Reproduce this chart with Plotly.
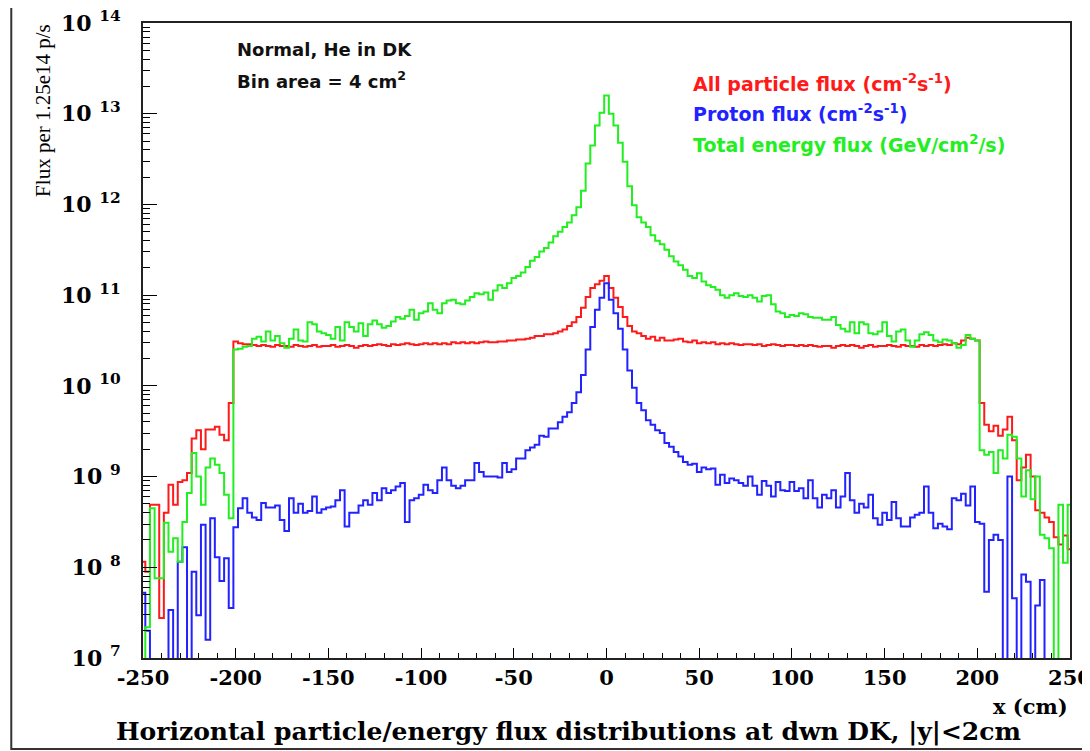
import plotly.graph_objects as go

# ---------------- data (log10 of flux per 2.5 cm bin, bins centred -250 ... 250 cm) ----------------
E = None  # empty bin (below the plotted range)

bin_centers_cm = [-250 + 2.5 * i for i in range(201)]

log10_all_particle = [
    8.06, 7.95, 8.69, 8.69, 7.44, 8.60, 8.91, 8.69, 8.94, 8.96, 9.04, 9.42, 9.51, 9.30, 9.52, 9.52, 9.55, 9.46, 9.40, 9.81,
    10.49, 10.47, 10.46, 10.46, 10.45, 10.44, 10.45, 10.44, 10.43, 10.45, 10.44, 10.44, 10.43, 10.45, 10.44, 10.43, 10.44, 10.45, 10.43, 10.44,
    10.44, 10.45, 10.43, 10.44, 10.45, 10.44, 10.42, 10.44, 10.45, 10.44, 10.45, 10.46, 10.45, 10.44, 10.46, 10.45, 10.46, 10.47, 10.46, 10.45,
    10.46, 10.47, 10.46, 10.47, 10.46, 10.47, 10.46, 10.48, 10.47, 10.48, 10.47, 10.48, 10.47, 10.48, 10.49, 10.48, 10.48, 10.49, 10.49, 10.50,
    10.50, 10.51, 10.51, 10.52, 10.53, 10.55, 10.55, 10.57, 10.57, 10.58, 10.60, 10.62, 10.66, 10.70, 10.76, 10.86, 10.98, 11.08, 11.12, 11.16,
    11.21, 11.08, 10.97, 10.87, 10.76, 10.66, 10.60, 10.58, 10.55, 10.52, 10.54, 10.50, 10.53, 10.50, 10.50, 10.51, 10.52, 10.49, 10.48, 10.50,
    10.47, 10.48, 10.47, 10.48, 10.46, 10.47, 10.46, 10.47, 10.46, 10.45, 10.46, 10.46, 10.45, 10.46, 10.44, 10.45, 10.46, 10.45, 10.44, 10.45,
    10.45, 10.44, 10.45, 10.44, 10.45, 10.44, 10.43, 10.44, 10.44, 10.42, 10.44, 10.45, 10.44, 10.45, 10.44, 10.42, 10.44, 10.45, 10.43, 10.44,
    10.44, 10.45, 10.44, 10.43, 10.45, 10.44, 10.44, 10.43, 10.45, 10.44, 10.45, 10.44, 10.45, 10.46, 10.45, 10.47, 10.46, 10.50, 10.53, 10.52,
    10.50, 9.81, 9.57, 9.50, 9.56, 9.45, 9.52, 9.66, 9.40, 8.96, 9.10, 9.24, 9.00, 8.63, 8.60, 8.55, 8.50, 8.33, 8.25, 8.35, 8.20,
]

log10_proton = [
    7.72, 7.30, E, E, E, E, 7.53, E, 8.06, 8.22, E, 7.95, 7.47, 8.47, 7.20, 8.54, 8.11, 7.85, 8.10, 7.55,
    8.44, 8.65, 8.76, 8.60, 8.55, 8.52, 8.71, 8.66, 8.66, 8.68, 8.52, 8.40, 8.76, 8.60, 8.70, 8.60, 8.62, 8.78, 8.60, 8.64,
    8.66, 8.67, 8.74, 8.85, 8.45, 8.60, 8.60, 8.68, 8.74, 8.69, 8.82, 8.74, 8.87, 8.82, 8.85, 8.89, 8.93, 8.50, 8.74, 8.76,
    8.80, 8.91, 8.85, 8.82, 8.96, 9.10, 8.96, 8.90, 8.87, 8.90, 8.96, 8.96, 9.15, 9.05, 9.00, 9.00, 9.00, 8.99, 9.15, 9.05,
    9.08, 9.20, 9.20, 9.29, 9.32, 9.35, 9.45, 9.44, 9.53, 9.53, 9.60, 9.66, 9.71, 9.81, 9.93, 10.12, 10.40, 10.65, 10.84, 10.97,
    11.13, 10.95, 10.80, 10.63, 10.40, 10.17, 9.98, 9.81, 9.73, 9.62, 9.57, 9.51, 9.48, 9.37, 9.33, 9.27, 9.22, 9.16, 9.13, 9.14,
    9.05, 9.10, 9.08, 9.09, 8.91, 9.02, 8.93, 8.98, 8.96, 8.93, 8.90, 9.00, 8.90, 8.80, 8.95, 8.90, 8.78, 8.94, 8.85, 8.84,
    8.94, 8.84, 8.87, 8.76, 8.96, 8.76, 8.66, 8.80, 8.76, 8.85, 8.66, 8.78, 9.04, 8.74, 8.60, 8.70, 8.66, 8.80, 8.54, 8.47,
    8.60, 8.52, 8.72, 8.54, 8.45, 8.45, 8.55, 8.58, 8.60, 8.89, 8.60, 8.43, 8.48, 8.45, 8.42, 8.76, 8.74, 8.81, 8.68, 8.89,
    8.50, 8.48, 7.73, 8.30, 8.36, 8.30, E, 9.00, 7.66, E, 7.92, 7.84, E, 7.58, 7.86, E, E, E, E, E, E,
]

log10_total_energy = [
    E, 7.34, 8.65, 7.88, 7.88, 8.49, 8.17, 8.32, 8.06, 8.50, 8.82, 9.26, 9.00, 8.69, 9.10, 9.20, 9.13, 9.04, 8.80, 8.54,
    10.40, 10.41, 10.43, 10.44, 10.52, 10.54, 10.49, 10.60, 10.50, 10.55, 10.47, 10.42, 10.52, 10.62, 10.50, 10.49, 10.70, 10.68, 10.60, 10.58,
    10.56, 10.52, 10.65, 10.50, 10.70, 10.65, 10.60, 10.69, 10.55, 10.68, 10.72, 10.68, 10.64, 10.66, 10.71, 10.76, 10.74, 10.77, 10.84, 10.73,
    10.80, 10.82, 10.91, 10.84, 10.80, 10.91, 10.94, 10.95, 10.91, 10.90, 10.94, 10.98, 11.02, 11.01, 11.03, 10.95, 11.05, 11.11, 11.08, 11.13,
    11.19, 11.21, 11.25, 11.31, 11.38, 11.42, 11.48, 11.52, 11.58, 11.65, 11.70, 11.75, 11.80, 11.88, 11.97, 12.15, 12.45, 12.65, 12.87, 13.01,
    13.20, 13.00, 12.87, 12.68, 12.47, 12.20, 11.99, 11.86, 11.80, 11.75, 11.66, 11.60, 11.56, 11.50, 11.43, 11.37, 11.33, 11.28, 11.21, 11.19,
    11.24, 11.15, 11.11, 11.09, 11.06, 11.00, 10.97, 11.00, 11.02, 10.99, 10.98, 11.00, 10.97, 10.93, 10.99, 11.00, 10.90, 10.82, 10.80, 10.76,
    10.78, 10.77, 10.80, 10.79, 10.76, 10.75, 10.75, 10.73, 10.73, 10.76, 10.67, 10.63, 10.60, 10.70, 10.58, 10.70, 10.68, 10.58, 10.57, 10.60,
    10.70, 10.55, 10.49, 10.60, 10.62, 10.50, 10.43, 10.50, 10.57, 10.59, 10.56, 10.50, 10.48, 10.51, 10.50, 10.47, 10.42, 10.45, 10.56, 10.52,
    10.50, 9.29, 9.24, 9.27, 9.04, 9.29, 9.20, 9.46, 9.44, 9.20, 8.78, 9.07, 8.75, 9.00, 8.36, 8.32, 8.21, E, 8.69, 8.05, 8.69,
]

x_tick_values = [-250, -200, -150, -100, -50, 0, 50, 100, 150, 200, 250]
x_tick_labels = ["-250", "-200", "-150", "-100", "-50", "0", "50", "100", "150", "200", "250"]
y_tick_exponents = [7, 8, 9, 10, 11, 12, 13, 14]

series_names = ["All particle flux", "Proton flux", "Total energy flux"]
series_colors = ["#ff1a1a", "#2222ff", "#22ee22"]

# ---------------- figure ----------------
EMPTY_FLOOR = 1e3  # empty bins drop below the visible axis range


def to_flux(logs):
    return [EMPTY_FLOOR if v is None else 10 ** v for v in logs]


fig = go.Figure()
for name, logs, col in zip(series_names,
                           [log10_all_particle, log10_proton, log10_total_energy],
                           series_colors):
    fig.add_trace(go.Scatter(
        x=bin_centers_cm, y=to_flux(logs), mode="lines", name=name,
        line=dict(color=col, width=2, shape="hvh"), hoverinfo="skip",
    ))

serif = "DejaVu Serif"
sans = "DejaVu Sans"

# page body has an 8 px margin: figure is sized/placed so the plot lands where the reference has it
fig.update_layout(
    width=1082, height=743,
    margin=dict(l=135, r=20, t=15, b=93, autoexpand=False),
    paper_bgcolor="white", plot_bgcolor="white",
    showlegend=False,
)

fig.update_xaxes(
    range=[-250, 250], automargin=False,
    tickmode="array", tickvals=x_tick_values,
    ticktext=[f"<b>{t}</b>" for t in x_tick_labels],
    tickfont=dict(family=serif, size=21, color="black"),
    ticklabeloverflow="allow",
    ticks="inside", ticklen=10, tickwidth=1.2, tickcolor="black",
    minor=dict(dtick=10, tick0=0, ticks="inside", ticklen=5, tickwidth=1.2, tickcolor="black", showgrid=False),
    showline=True, linecolor="#222", linewidth=2, mirror=True,
    showgrid=False, zeroline=False,
)

minor_y = [k * 10 ** e for e in y_tick_exponents[:-1] for k in range(2, 10)]
fig.update_yaxes(
    type="log", range=[7, 14], automargin=False,
    tickmode="array", tickvals=[10 ** e for e in y_tick_exponents],
    ticktext=[f"<b>10 <sup>{e}</sup></b>" for e in y_tick_exponents],
    tickfont=dict(family=serif, size=22, color="black"),
    ticklabeloverflow="allow",
    ticks="inside", ticklen=14, tickwidth=1.2, tickcolor="black",
    ticklabelstandoff=16,
    minor=dict(tickmode="array", tickvals=minor_y, ticks="inside", ticklen=7,
               tickwidth=1.2, tickcolor="black", showgrid=False),
    showline=True, linecolor="#222", linewidth=2, mirror=True,
    showgrid=False, zeroline=False,
)

annotations = [
    dict(text="Flux per 1.25e14 p/s", x=-0.108, y=0.863, textangle=-90,
         font=dict(family="Liberation Serif", size=21, color="black")),
    dict(text="<b>x (cm)</b>", x=1.0, xanchor="right", y=-0.0756,
         font=dict(family=serif, size=21, color="black")),
    dict(text="<b>Horizontal particle/energy flux distributions at dwn DK, |y|<2cm</b>",
         x=0.459, y=-0.1165, font=dict(family=serif, size=25, color="black")),
    dict(text="<b>Normal, He in DK</b>", x=0.0997, xanchor="left", y=0.959,
         font=dict(family=sans, size=18, color="#111")),
    dict(text="<b>Bin area = 4 cm<sup>2</sup></b>", x=0.0997, xanchor="left", y=0.910,
         font=dict(family=sans, size=18, color="#111")),
    dict(text="<b>All particle flux (cm<sup>-2</sup>s<sup>-1</sup>)</b>", x=0.591, xanchor="left",
         y=0.9055, font=dict(family=sans, size=19, color=series_colors[0])),
    dict(text="<b>Proton flux (cm<sup>-2</sup>s<sup>-1</sup>)</b>", x=0.591, xanchor="left",
         y=0.8583, font=dict(family=sans, size=19, color=series_colors[1])),
    dict(text="<b>Total energy flux (GeV/cm<sup>2</sup>/s)</b>", x=0.591, xanchor="left",
         y=0.8094, font=dict(family=sans, size=19, color=series_colors[2])),
]
for a in annotations:
    a.setdefault("xanchor", "center")
    a.update(xref="paper", yref="paper", yanchor="middle", showarrow=False)
fig.update_layout(annotations=annotations)

# outer canvas frame
fig.add_shape(type="rect", xref="paper", yref="paper",
              x0=-0.1421, x1=1.0178, y0=-0.1433, y1=1.0268,
              line=dict(color="#333", width=2), fillcolor="rgba(0,0,0,0)", layer="below")

fig.write_html("out.html")
